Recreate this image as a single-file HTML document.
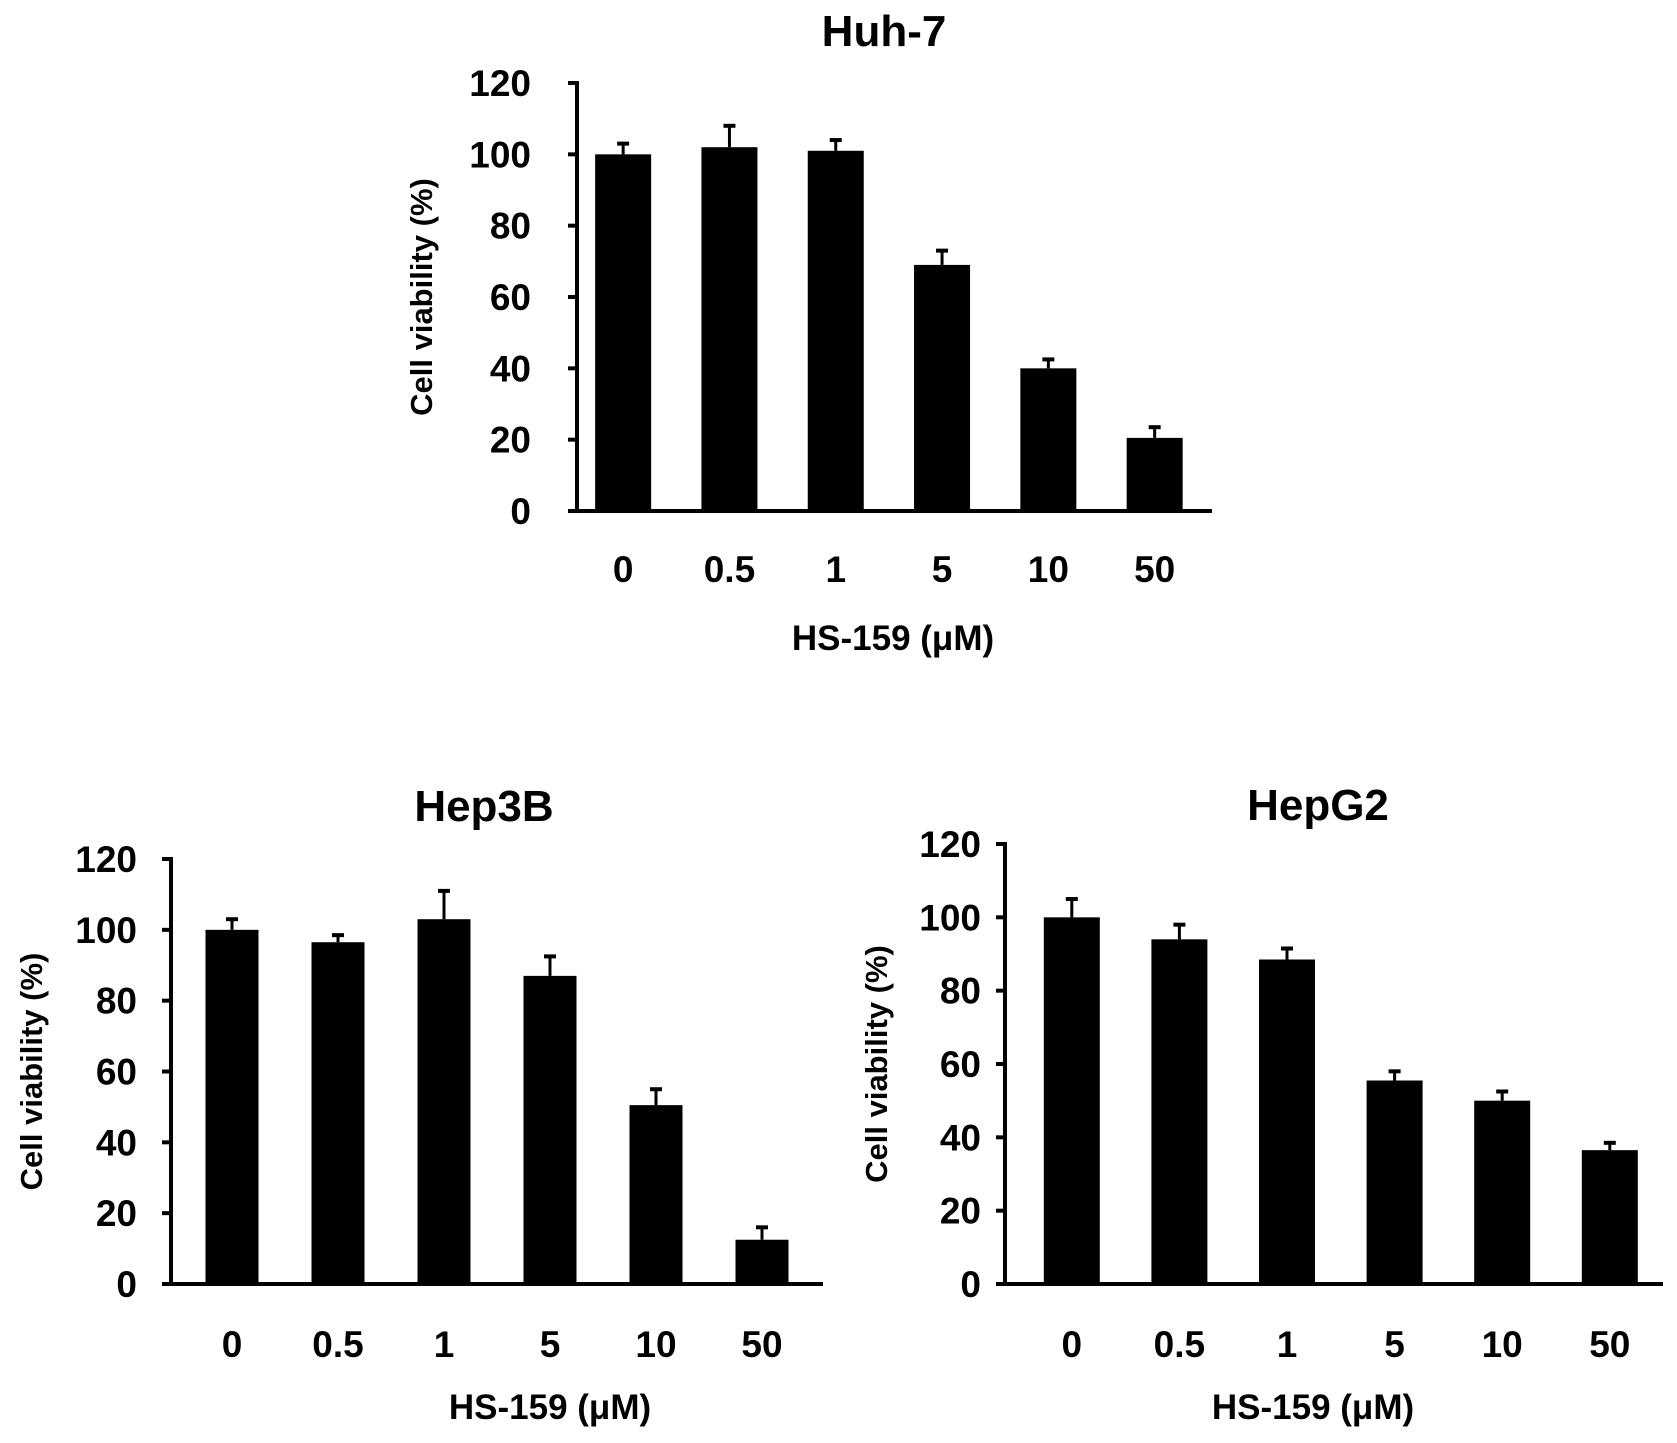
<!DOCTYPE html>
<html><head><meta charset="utf-8"><style>
html,body{margin:0;padding:0;background:#fff;}
svg{display:block;font-family:"Liberation Sans",Arial,sans-serif;font-weight:bold;}
</style></head><body>
<svg id="fig" width="1677" height="1443" viewBox="0 0 1677 1443"></svg>
<script>
const categories = ["0","0.5","1","5","10","50"];
const yTicks = [0,20,40,60,80,100,120];
const huhValues = [100,102,101,69,40,20.5];
const huhErrors = [3,6,3,4,2.5,3];
const hep3bValues = [100,96.5,103,87,50.5,12.5];
const hep3bErrors = [3,2,8,5.5,4.5,3.5];
const hepg2Values = [100,94,88.5,55.5,50,36.5];
const hepg2Errors = [5,4,3,2.5,2.5,2];

const NS = "http://www.w3.org/2000/svg";
const svg = document.getElementById('fig');
function mk(tag, attrs, parent, text){
  const e = document.createElementNS(NS, tag);
  for (const k in attrs) e.setAttribute(k, attrs[k]);
  if (text !== undefined) e.textContent = text;
  parent.appendChild(e);
  return e;
}
function chart(id, title, vals, errs, L){
  const g = mk('g', {}, svg);
  
  
  const y = v => L.base - (v/120)*(L.base - L.top);
  const step = L.step;
  const x = i => L.ax + step*(i+0.5) + L.xOff;
  const t = mk('text', {x:L.titleX, y:L.titleY, 'text-anchor':'middle', 'font-size':44}, g, title);
  
  
  const ya = mk('line', {x1:L.ax, y1:L.top-2, x2:L.ax, y2:L.base, stroke:'#000', 'stroke-width':4}, g);
  
  
  yTicks.forEach(v => {
    mk('line', {x1:L.ax-9, y1:y(v), x2:L.ax, y2:y(v), stroke:'#000', 'stroke-width':4}, g);
    const tl = mk('text', {x:L.ax-L.gap, y:y(v)+13, 'text-anchor':'end', 'font-size':37}, g, String(v));
    
    
  });
  vals.forEach((v,i) => {
    const cx = x(i);
    const e = errs[i];
    mk('line', {x1:cx, y1:y(v), x2:cx, y2:y(v+e), stroke:'#000', 'stroke-width':3}, g);
    mk('line', {x1:cx-6, y1:y(v+e), x2:cx+6, y2:y(v+e), stroke:'#000', 'stroke-width':4}, g);
    const b = mk('rect', {x:cx-L.bw/2, y:y(v), width:L.bw, height:L.base-y(v), fill:'#000'}, g);
    
    
    const xl = mk('text', {x:cx, y:L.tickY, 'text-anchor':'middle', 'font-size':37}, g, categories[i]);
    
    
  });
  const xa = mk('line', {x1:L.ax-9, y1:L.base, x2:L.xEnd, y2:L.base, stroke:'#000', 'stroke-width':4}, g);
  
  
  const xt = mk('text', {x:L.xtX, y:L.xtY, 'text-anchor':'middle', 'font-size':35}, g, 'HS-159 (\u03bcM)');
  
  
  const cy = (L.top + L.base)/2;
  const yt = mk('text', {x:L.ylX, y:cy, 'text-anchor':'middle', 'font-size':31, transform:`rotate(-90 ${L.ylX} ${cy})`}, g, 'Cell viability (%)');
  
  
}
chart('huh7', 'Huh-7', huhValues, huhErrors,
  {ax:577, top:83, base:511, xEnd:1212, step:106.3, xOff:-7, bw:56, gap:46, tickY:582, titleX:884, titleY:46, xtX:893, xtY:650, ylX:432});
chart('hep3b', 'Hep3B', hep3bValues, hep3bErrors,
  {ax:171, top:859, base:1284, xEnd:823, step:106, xOff:8, bw:53, gap:34, tickY:1357, titleX:484, titleY:821, xtX:550, xtY:1419, ylX:42});
chart('hepg2', 'HepG2', hepg2Values, hepg2Errors,
  {ax:1005, top:844, base:1284, xEnd:1663, step:107.6, xOff:13, bw:56, gap:24, tickY:1357, titleX:1318, titleY:820, xtX:1313, xtY:1419, ylX:887});
</script>
</body></html>
